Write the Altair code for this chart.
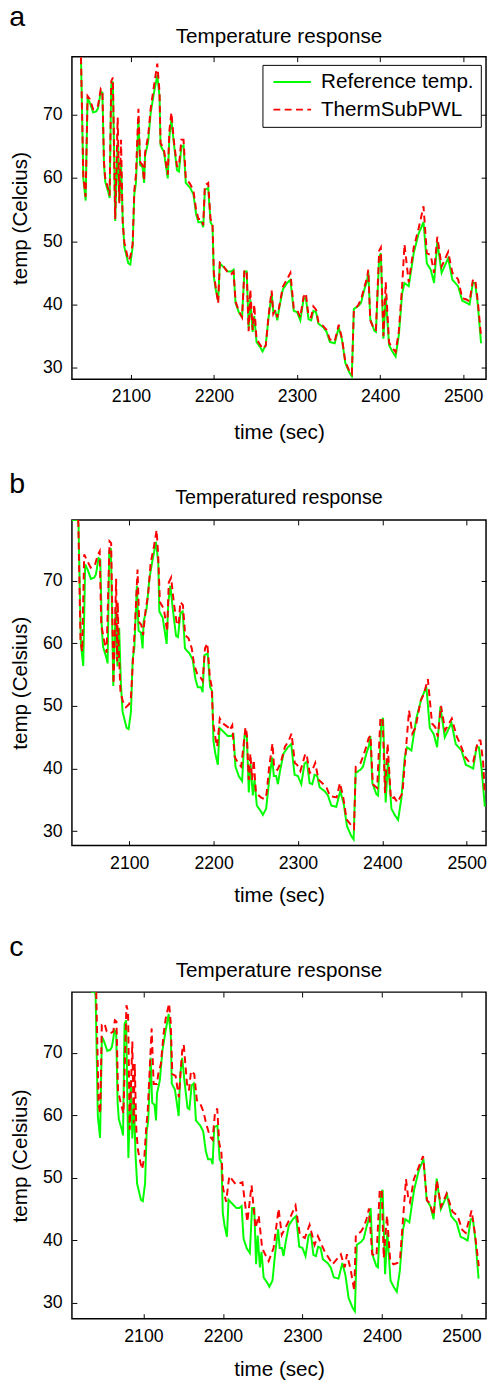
import altair as alt
import pandas as pd

NAMES = ["Reference temp.", "ThermSubPWL"]

# Reference temperature (green)
REF_T = [2039.8, 2042.6, 2045.4, 2047.7, 2050.5, 2054.5, 2058.4, 2060.4, 2063.6, 2065.6,
         2067.5, 2069.0, 2073.0, 2074.3, 2076.2, 2078.2, 2081.0, 2084.0, 2086.0, 2088.0,
         2090.0, 2092.0, 2096.8, 2099.2, 2102.0, 2104.0, 2106.0, 2109.0, 2111.0, 2113.9,
         2115.8, 2117.0, 2120.6, 2123.8, 2127.7, 2131.7, 2134.4, 2135.6, 2139.6, 2144.3,
         2146.3, 2148.7, 2151.5, 2155.4, 2157.8, 2160.6, 2163.3, 2166.0, 2171.3, 2175.2,
         2178.4, 2181.2, 2185.0, 2187.0, 2189.0, 2193.0, 2195.8, 2198.2, 2199.8, 2202.0,
         2205.0, 2207.0, 2210.8, 2216.8, 2220.7, 2223.5, 2225.9, 2229.8, 2233.8, 2236.6,
         2239.4, 2241.7, 2243.7, 2246.5, 2248.5, 2251.2, 2256.4, 2258.4, 2262.3, 2265.5,
         2269.4, 2271.4, 2274.2, 2276.2, 2279.0, 2282.9, 2288.0, 2292.0, 2296.0, 2300.0,
         2303.9, 2307.8, 2310.6, 2313.8, 2317.0, 2319.7, 2322.9, 2325.7, 2331.6, 2335.6,
         2339.5, 2345.4, 2350.2, 2354.2, 2358.1, 2363.3, 2366.0, 2368.4, 2374.0, 2377.1,
         2381.1, 2384.3, 2385.8, 2388.2, 2393.0, 2395.0, 2398.9, 2400.9, 2404.0, 2406.8,
         2410.8, 2414.7, 2418.7, 2422.6, 2426.6, 2429.4, 2434.5, 2440.5, 2446.4, 2452.3,
         2456.3, 2461.0, 2465.0, 2468.9, 2474.1, 2482.0, 2487.1, 2493.9, 2499.0, 2503.8,
         2507.8, 2511.7, 2514.5, 2517.7, 2521.6]
REF_V = [79.0, 59.9, 56.4, 72.6, 71.8, 70.3, 70.5, 71.0, 73.6, 73.4,
         62.0, 59.4, 57.6, 56.8, 74.6, 75.2, 53.2, 65.6, 56.3, 62.5,
         53.7, 49.1, 46.5, 46.3, 49.1, 57.4, 59.2, 69.2, 62.0, 61.7,
         59.2, 63.5, 65.6, 70.3, 73.4, 76.2, 72.8, 65.1, 64.1, 59.9,
         66.6, 69.2, 65.6, 61.2, 61.0, 64.8, 65.1, 59.2, 58.4, 57.4,
         54.3, 53.0, 53.0, 52.2, 58.1, 58.4, 53.0, 52.4, 44.4, 42.4,
         40.6, 46.5, 46.0, 45.2, 45.2, 45.5, 40.3, 38.8, 38.0, 45.2,
         45.2, 36.2, 40.8, 35.7, 38.2, 34.1, 33.1, 32.6, 33.6, 37.7,
         41.8, 38.8, 38.8, 37.5, 39.8, 42.4, 43.4, 43.9, 39.0, 38.8,
         37.5, 40.8, 41.1, 37.7, 37.5, 39.0, 38.8, 37.0, 36.4, 35.7,
         34.1, 33.9, 36.4, 34.4, 30.8, 29.2, 28.7, 39.3, 39.8, 40.3,
         42.4, 43.7, 45.2, 37.7, 35.9, 35.7, 47.5, 48.1, 34.6, 41.3,
         33.6, 32.6, 31.8, 35.2, 41.8, 43.4, 42.9, 48.1, 51.2, 53.0,
         46.5, 45.5, 43.4, 49.9, 45.0, 47.3, 43.9, 42.9, 40.6, 40.3,
         40.0, 43.4, 43.4, 40.0, 33.9]

# leading part of the reference curve running along the top edge in panels b and c
REF_HEAD_B_T = [2031.0, 2039.0]
REF_HEAD_B_V = [79.7, 79.7]
REF_HEAD_C_T = [2034.0, 2039.0]
REF_HEAD_C_V = [79.7, 79.7]

# ThermSubPWL, panel a (same sampling times as the reference)
SUB_A_V = [79.0, 60.2, 57.0, 72.9, 72.4, 70.8, 71.0, 71.4, 74.0, 73.6,
           62.5, 60.0, 58.0, 57.2, 75.2, 75.8, 53.5, 69.5, 56.0, 66.0,
           53.0, 49.8, 47.0, 47.5, 49.5, 58.0, 60.5, 70.9, 62.5, 62.0,
           59.5, 64.0, 66.5, 71.0, 74.5, 78.0, 73.5, 65.5, 64.5, 60.5,
           67.5, 70.3, 66.0, 61.8, 61.8, 66.0, 66.0, 60.0, 59.0, 58.0,
           55.0, 53.5, 53.5, 52.5, 58.8, 59.2, 53.5, 52.8, 45.0, 42.8,
           40.2, 46.6, 46.2, 45.0, 44.8, 45.2, 40.5, 39.0, 38.0, 45.5,
           45.0, 35.8, 42.4, 36.0, 40.0, 34.5, 33.5, 33.0, 33.5, 38.0,
           42.2, 38.5, 39.2, 38.0, 40.0, 42.8, 44.0, 45.0, 39.5, 39.2,
           38.0, 41.2, 41.8, 38.2, 38.0, 39.7, 39.2, 37.3, 36.6, 36.0,
           34.5, 34.2, 36.8, 34.6, 31.0, 29.4, 29.0, 39.0, 40.0, 40.8,
           42.8, 44.2, 45.5, 37.5, 36.0, 36.0, 48.5, 49.0, 35.0, 43.5,
           34.0, 33.2, 32.5, 35.8, 43.0, 49.5, 43.5, 49.0, 52.0, 55.5,
           48.1, 47.8, 45.0, 50.7, 46.0, 48.3, 45.0, 44.0, 41.0, 40.8,
           40.5, 43.8, 44.0, 40.5, 35.0]

# ThermSubPWL, panel b
SUB_B_T = [2039.5, 2042.2, 2044.2, 2046.5, 2049.3, 2054.3, 2059.0, 2062.9, 2064.9, 2066.8,
           2070.0, 2073.1, 2076.6, 2078.5, 2081.3, 2084.4, 2085.6, 2086.3, 2087.5, 2089.5,
           2092.2, 2096.1, 2100.0, 2102.0, 2105.1, 2106.6, 2109.8, 2111.7, 2114.4, 2116.4,
           2119.5, 2122.2, 2125.4, 2129.3, 2132.4, 2134.3, 2136.3, 2141.0, 2144.9, 2146.8,
           2149.6, 2152.7, 2156.6, 2158.9, 2160.5, 2163.6, 2166.3, 2170.2, 2174.1, 2176.9,
           2180.8, 2184.7, 2187.0, 2189.8, 2192.5, 2195.6, 2197.6, 2199.5, 2202.6, 2204.2,
           2207.3, 2211.2, 2217.1, 2219.0, 2222.1, 2224.9, 2228.8, 2232.7, 2237.8, 2239.3,
           2241.7, 2243.6, 2245.6, 2247.5, 2250.2, 2256.1, 2260.0, 2262.7, 2265.9, 2269.8,
           2271.7, 2275.6, 2279.5, 2284.6, 2289.3, 2292.4, 2296.3, 2299.0, 2302.9, 2308.8,
           2310.7, 2313.9, 2316.6, 2320.5, 2324.4, 2330.2, 2334.1, 2338.0, 2345.9, 2349.8,
           2353.7, 2357.6, 2363.4, 2366.5, 2368.5, 2374.3, 2377.1, 2381.0, 2383.7, 2386.0,
           2388.8, 2393.9, 2397.8, 2400.5, 2403.2, 2406.3, 2410.2, 2414.1, 2418.0, 2423.9,
           2431.7, 2435.6, 2439.5, 2445.4, 2449.3, 2454.0, 2459.0, 2462.9, 2465.7, 2469.6,
           2474.6, 2482.4, 2488.3, 2492.2, 2498.0, 2503.9, 2507.8, 2513.7, 2516.4, 2519.5,
           2521.5]
SUB_B_V = [79.7, 60.3, 58.7, 74.2, 73.4, 72.1, 72.4, 74.2, 74.7, 62.9,
           60.6, 58.5, 76.3, 76.0, 53.5, 70.3, 57.1, 66.6, 59.2, 52.4,
           50.8, 49.8, 50.3, 51.4, 59.2, 62.4, 71.8, 63.4, 62.9, 61.3,
           65.5, 67.6, 72.9, 75.5, 78.1, 73.9, 66.6, 65.5, 61.9, 69.7,
           70.5, 66.6, 62.9, 63.4, 66.6, 66.1, 61.3, 60.8, 59.2, 56.6,
           55.0, 54.5, 54.0, 59.2, 60.0, 54.5, 53.2, 47.2, 44.5, 43.5,
           48.0, 47.2, 46.6, 46.1, 46.9, 41.9, 40.9, 40.3, 46.6, 45.6,
           38.2, 42.4, 38.2, 41.4, 36.1, 35.4, 35.1, 35.9, 40.3, 44.0,
           40.3, 39.8, 40.9, 43.5, 44.5, 45.6, 40.9, 40.6, 39.6, 42.4,
           41.9, 39.3, 39.6, 40.9, 38.2, 37.5, 36.9, 35.6, 35.4, 37.7,
           35.4, 31.9, 30.9, 30.4, 40.3, 40.9, 41.9, 43.5, 44.8, 45.3,
           37.5, 36.9, 48.2, 47.7, 36.1, 44.0, 35.1, 35.4, 34.6, 36.1,
           49.3, 45.6, 46.6, 50.8, 51.9, 54.3, 47.2, 46.6, 45.1, 50.0,
           46.1, 48.0, 45.1, 44.0, 41.9, 40.9, 41.1, 44.5, 44.5, 41.1,
           36.1]

# ThermSubPWL, panel c
SUB_C_T = [2040.6, 2043.5, 2045.6, 2047.6, 2051.0, 2053.8, 2058.0, 2062.0, 2064.0, 2066.0,
           2068.0, 2071.5, 2074.8, 2078.6, 2080.6, 2082.7, 2086.0, 2087.6, 2089.0, 2091.0,
           2093.0, 2096.3, 2098.4, 2101.2, 2103.3, 2105.4, 2110.3, 2112.8, 2117.0, 2118.6,
           2121.9, 2125.2, 2128.0, 2132.2, 2134.2, 2136.3, 2140.4, 2144.5, 2148.7, 2150.7,
           2154.8, 2157.3, 2159.8, 2163.9, 2167.2, 2171.3, 2175.5, 2178.8, 2183.7, 2187.0,
           2189.9, 2192.8, 2195.3, 2198.1, 2200.2, 2204.0, 2208.0, 2216.0, 2224.5, 2230.7,
           2236.0, 2241.0, 2245.0, 2249.3, 2253.0, 2257.5, 2263.7, 2270.0, 2274.0, 2282.3,
           2291.3, 2296.8, 2303.0, 2309.0, 2315.3, 2319.4, 2327.7, 2338.0, 2348.3, 2353.2,
           2356.0, 2360.6, 2365.2, 2367.2, 2373.4, 2377.5, 2380.8, 2383.7, 2387.8, 2393.2,
           2397.3, 2399.8, 2402.3, 2406.4, 2410.5, 2414.6, 2419.6, 2422.9, 2430.3, 2433.2,
           2435.3, 2440.2, 2446.8, 2451.8, 2456.7, 2460.0, 2465.0, 2469.1, 2474.4, 2481.4,
           2488.9, 2495.0, 2501.2, 2505.4, 2512.8, 2516.9, 2521.9]
SUB_C_V = [79.7, 61.9, 60.3, 74.5, 74.7, 73.4, 73.1, 73.4, 75.2, 75.0,
           64.0, 61.9, 60.3, 77.6, 76.5, 57.7, 71.8, 58.7, 68.2, 57.7,
           54.5, 52.4, 51.4, 53.5, 57.7, 60.8, 73.9, 65.0, 65.0, 66.6,
           68.2, 72.9, 75.5, 77.9, 75.0, 66.6, 66.3, 62.9, 70.3, 71.3,
           65.0, 64.0, 67.1, 66.6, 62.4, 61.9, 60.6, 58.7, 56.6, 56.1,
           60.3, 61.1, 55.6, 54.0, 48.3, 46.2, 50.3, 49.0, 49.3, 43.0,
           48.8, 42.0, 44.0, 38.8, 37.8, 36.7, 38.8, 45.1, 40.9, 43.0,
           45.6, 40.9, 40.4, 42.5, 39.3, 40.7, 38.3, 36.2, 37.8, 35.7,
           37.8, 35.4, 32.0, 40.9, 41.4, 42.2, 43.5, 45.1, 37.8, 37.5,
           48.2, 48.0, 37.2, 44.0, 36.7, 36.2, 36.4, 37.2, 49.8, 46.7,
           46.1, 49.8, 51.9, 53.5, 46.4, 46.0, 44.0, 49.6, 45.4, 47.5,
           44.6, 44.0, 41.7, 41.2, 44.8, 41.2, 35.9]

X_TICKS = [2100, 2200, 2300, 2400, 2500]
Y_TICKS = [30, 40, 50, 60, 70]
FONT = "Liberation Sans"


def panel(letter, title, title_size, ylabel, ref_t, ref_v, sub_t, sub_v,
          xdom, ydom, h, leg_font, sym_len, leg_x, leg_y, row_pad, x_tpad, title_off, letter_off):
    df_ref = pd.DataFrame({"t": ref_t, "v": ref_v, "s": NAMES[0]})
    df_sub = pd.DataFrame({"t": sub_t, "v": sub_v, "s": NAMES[1]})
    xs = alt.Scale(domain=xdom, nice=False, zero=False)
    ys = alt.Scale(domain=ydom, nice=False, zero=False)
    unit = sym_len / 3.0
    leg = dict(title=None, orient="none", legendX=leg_x, legendY=leg_y, padding=7,
               rowPadding=row_pad, labelFontSize=leg_font, labelFont=FONT, labelColor="black",
               labelOffset=sym_len + 6 - unit,
               symbolType="M-1,0H5", symbolStrokeWidth=2, symbolSize=unit * unit,
               strokeColor="black", fillColor="white", cornerRadius=0)
    color = alt.Color("s:N", scale=alt.Scale(domain=NAMES, range=["#00ff00", "#ff0000"]),
                      legend=alt.Legend(**leg))
    dash = alt.StrokeDash("s:N", scale=alt.Scale(domain=NAMES, range=[[1, 0], [7, 4.5]]),
                          legend=alt.Legend(**leg))
    ax_common = dict(offset=-5, tickSize=5, domain=False, grid=False, tickColor="black",
                     tickWidth=1, labelFontSize=18, labelColor="black", labelFont=FONT,
                     titleFont=FONT, titleFontSize=21, titleFontWeight="normal",
                     titleColor="black", format="d")
    x_ax = alt.Axis(orient="bottom", values=X_TICKS, labelPadding=9, title="time (sec)",
                    titlePadding=x_tpad, labelFlush=False, **ax_common)
    y_ax = alt.Axis(orient="left", values=Y_TICKS, labelPadding=10, title=ylabel,
                    titlePadding=12, **ax_common)
    x_top = alt.Axis(orient="top", values=X_TICKS, labels=False, title=None, offset=-5,
                     tickSize=5, domain=False, grid=False, tickColor="black", tickWidth=1,
                     minExtent=0)
    y_right = alt.Axis(orient="right", values=Y_TICKS, labels=False, title=None, offset=-5,
                       tickSize=5, domain=False, grid=False, tickColor="black", tickWidth=1,
                       minExtent=0)
    ref = alt.Chart(df_ref).mark_line(strokeWidth=2, clip=True).encode(
        x=alt.X("t:Q", scale=xs, axis=x_ax), y=alt.Y("v:Q", scale=ys, axis=y_ax),
        color=color, strokeDash=dash)
    sub = alt.Chart(df_sub).mark_line(strokeWidth=2, clip=True).encode(
        x=alt.X("t:Q", scale=xs, axis=None), y=alt.Y("v:Q", scale=ys, axis=None),
        color=color, strokeDash=dash)
    ticks = alt.Chart(df_ref).mark_line(opacity=0).encode(
        x=alt.X("t:Q", scale=xs, axis=x_top), y=alt.Y("v:Q", scale=ys, axis=y_right))
    lay = alt.layer(ref, sub, ticks).resolve_axis(x="independent", y="independent").properties(
        width=421, height=h,
        title=alt.TitleParams(title, fontSize=title_size, fontWeight="normal", font=FONT,
                              color="black", anchor="middle", frame="group", offset=title_off))
    return alt.vconcat(lay).properties(
        title=alt.TitleParams(letter, fontSize=29, fontWeight="normal", font=FONT,
                              color="black", anchor="start", offset=letter_off))


pa = panel("a", "Temperature response", 21, "temp (Celcius)", REF_T, REF_V, REF_T, SUB_A_V,
           [2028.9, 2527.6], [28.2, 79.1], 328, 21, 38.3, 193.7, 8.3, 6, 16, 9, -6)
pb = panel("b", "Temperatured response", 20, "temp (Celsius)", REF_HEAD_B_T + REF_T,
           REF_HEAD_B_V + REF_V, SUB_B_T, SUB_B_V,
           [2032.0, 2523.0], [27.7, 79.7], 331, 19.6, 35.7, 211, 6, 6, 13, 12, -12)
pc = panel("c", "Temperature response", 21, "temp (Celsius)", REF_HEAD_C_T + REF_T,
           REF_HEAD_C_V + REF_V, SUB_C_T, SUB_C_V,
           [2010.0, 2531.0], [27.5, 79.7], 332, 19.6, 37.0, 210, 7.3, 7, 14, 11, -3)

chart = alt.vconcat(pa, pb, pc, spacing=27).properties(
    padding={"top": -17, "left": 1, "right": 0, "bottom": 0}
).configure(font=FONT).configure_axis(
    titleFontWeight="normal"
).configure_title(fontWeight="normal").configure_view(stroke="black", strokeWidth=1.5)

chart.save("out.html", embed_options={"renderer": "svg", "actions": False})
